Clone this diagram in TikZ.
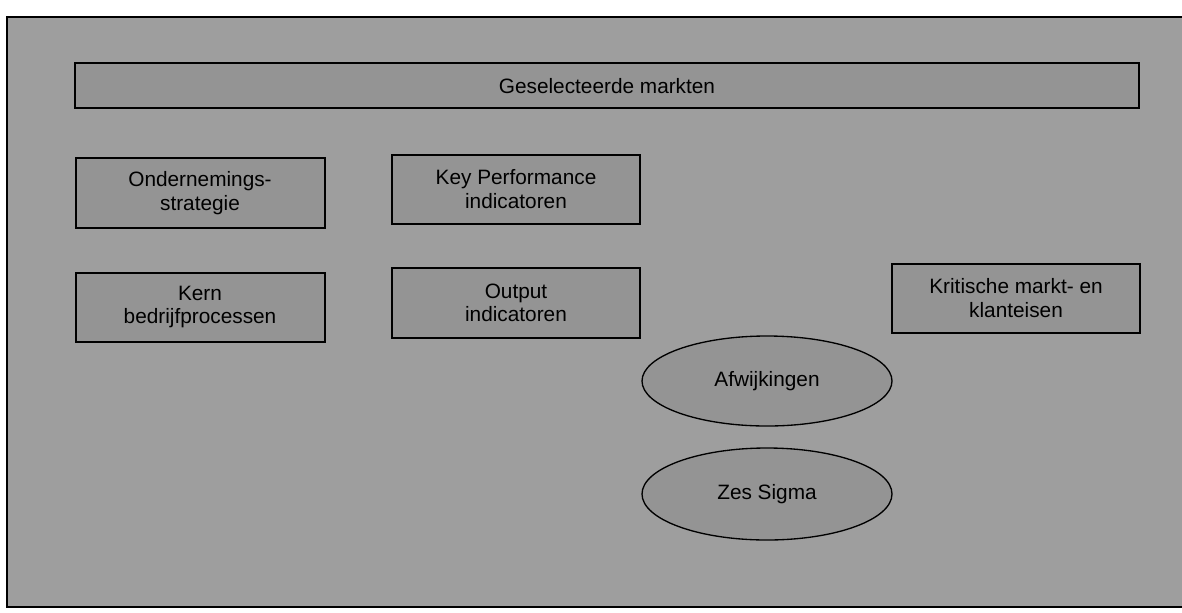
\documentclass[tikz,border=0pt]{standalone}
\usepackage{fontspec}
\setmainfont{Liberation Sans}
\usetikzlibrary{shapes.geometric}
\begin{document}
\begin{tikzpicture}[x=0.75pt,y=-0.75pt,
  panel/.style={fill=black!38},
  rim/.style={draw=black,line width=1.1pt},
  box/.style={draw=black,line width=1pt,fill=black!42,rectangle},
  oval/.style={draw=black,line width=1pt,fill=black!42,ellipse},
  lbl/.style={font=\fontsize{15.6pt}{17.6pt}\selectfont,align=center,text=black}]
\useasboundingbox (0,0) rectangle (1182,612);
% grey panel with its frame
\fill[panel] (7,17) rectangle (1182,607);
\draw[rim] (1182,17) -- (7,17) -- (7,607) -- (1182,607);
% boxes
\draw[box] (75,63) rectangle (1139,108);
\node[lbl] (markten) at (607,86) {Geselecteerde markten};
\draw[box] (76,158) rectangle (325,228);
\node[lbl] (strategie) at (200,193) {Ondernemings-\\strategie};
\draw[box] (392,155) rectangle (640,224);
\node[lbl] (kpi) at (516,189) {Key Performance\\indicatoren};
\draw[box] (76,273) rectangle (325,342);
\node[lbl] (kern) at (200,307) {Kern\\bedrijfprocessen};
\draw[box] (392,268) rectangle (640,338);
\node[lbl] (output) at (516,303) {Output\\indicatoren};
\draw[box] (892,264) rectangle (1140,333);
\node[lbl] (eisen) at (1016,298) {Kritische markt- en\\klanteisen};
% ellipses
\draw[oval] (767,381) ellipse [x radius=125,y radius=45];
\node[lbl] (afw) at (767,381) {Afwijkingen};
\draw[oval] (767,494) ellipse [x radius=125,y radius=46];
\node[lbl] (sigma) at (767,494) {Zes Sigma};
\end{tikzpicture}
\end{document}
